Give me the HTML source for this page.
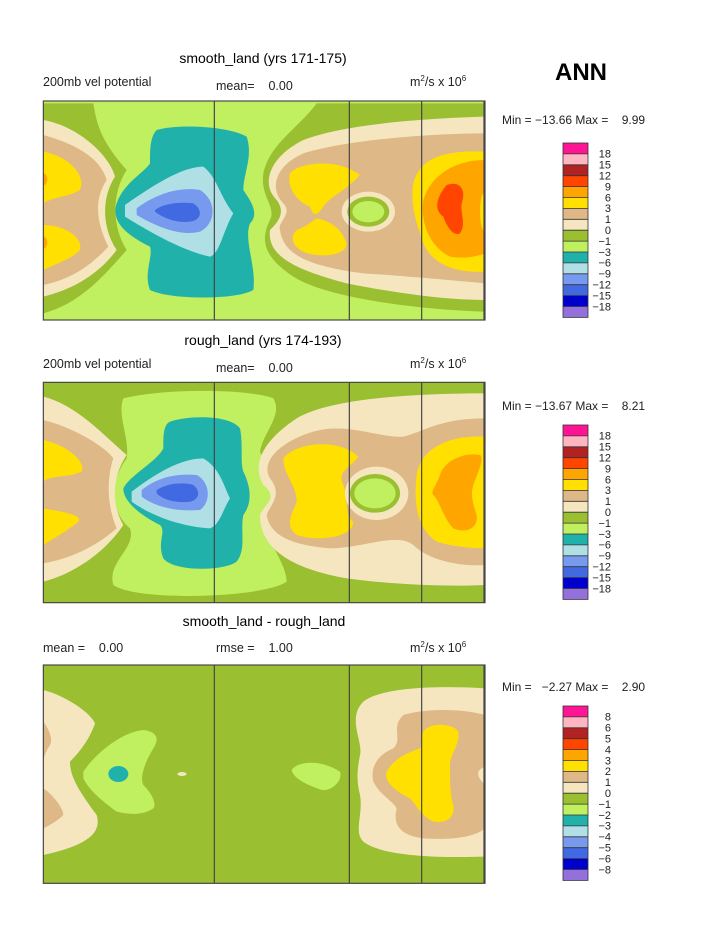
<!DOCTYPE html>
<html><head><meta charset="utf-8"><style>body{margin:0;background:#fff}svg{display:block}text{font-family:"Liberation Sans",sans-serif;white-space:pre}</style></head><body>
<svg width="723" height="935" viewBox="0 0 723 935" xmlns="http://www.w3.org/2000/svg" xml:space="preserve">
<defs>
<clipPath id="c1"><rect x="40" y="33" width="1325" height="657"/></clipPath>
<clipPath id="c2"><rect x="40" y="22" width="1325" height="661"/></clipPath>
<clipPath id="c3"><rect x="40" y="30" width="1325" height="655"/></clipPath>
<g id="cb">
<rect x="563" y="0" width="25" height="10.9" fill="#ff1493"/>
<rect x="563" y="10.9" width="25" height="10.9" fill="#ffb6c1"/>
<rect x="563" y="21.8" width="25" height="10.9" fill="#b22222"/>
<rect x="563" y="32.7" width="25" height="10.9" fill="#ff4500"/>
<rect x="563" y="43.6" width="25" height="10.9" fill="#ffa500"/>
<rect x="563" y="54.5" width="25" height="10.9" fill="#ffe000"/>
<rect x="563" y="65.4" width="25" height="10.9" fill="#deb887"/>
<rect x="563" y="76.3" width="25" height="10.9" fill="#f5e6c0"/>
<rect x="563" y="87.2" width="25" height="10.9" fill="#9abf30"/>
<rect x="563" y="98.1" width="25" height="10.9" fill="#c0ef60"/>
<rect x="563" y="109" width="25" height="10.9" fill="#20b2aa"/>
<rect x="563" y="119.9" width="25" height="10.9" fill="#b0e0e6"/>
<rect x="563" y="130.8" width="25" height="10.9" fill="#7799ee"/>
<rect x="563" y="141.7" width="25" height="10.9" fill="#4169e1"/>
<rect x="563" y="152.6" width="25" height="10.9" fill="#0000cd"/>
<rect x="563" y="163.5" width="25" height="10.9" fill="#9370db"/>
<g stroke="#333" stroke-width="0.8" fill="none">
<rect x="563" y="0" width="25" height="174.4"/>
<path d="M563 10.9H588M563 21.8H588M563 32.7H588M563 43.6H588M563 54.5H588M563 65.4H588M563 76.3H588M563 87.2H588M563 98.1H588M563 109H588M563 119.9H588M563 130.8H588M563 141.7H588M563 152.6H588M563 163.5H588"/>
</g>
</g>
</defs>

<text x="263" y="63" font-size="14" text-anchor="middle">smooth_land (yrs 171-175)</text>
<text x="43" y="86" font-size="12.5" fill="#222">200mb vel potential</text>
<text x="216" y="90" font-size="12.5" fill="#222">mean=    0.00</text>
<text x="410" y="86" font-size="12.5" fill="#222">m<tspan font-size="8" dy="-5">2</tspan><tspan dy="5">/s x 10</tspan><tspan font-size="8" dy="-5">6</tspan></text>
<text x="581" y="80" font-size="24" font-weight="bold" text-anchor="middle">ANN</text>
<text x="502" y="124" font-size="12" fill="#222">Min = −13.66 Max =    9.99</text>
<g transform="translate(0,143)"><use href="#cb"/>
<g font-size="11" text-anchor="end" fill="#222">
<text x="611" y="14.7">18</text><text x="611" y="25.6">15</text><text x="611" y="36.5">12</text><text x="611" y="47.4">9</text><text x="611" y="58.3">6</text><text x="611" y="69.2">3</text><text x="611" y="80.1">1</text><text x="611" y="91">0</text><text x="611" y="101.9">−1</text><text x="611" y="112.8">−3</text><text x="611" y="123.7">−6</text><text x="611" y="134.6">−9</text><text x="611" y="145.5">−12</text><text x="611" y="156.4">−15</text><text x="611" y="167.3">−18</text></g></g>

<!-- Panel 1 -->
<g transform="translate(30,90) scale(0.33333)">
<g clip-path="url(#c1)">
<rect x="40" y="33" width="1325" height="657" fill="#c0ef60"/>
<path fill="#9abf30" d="M40,40 L190,40 C200,100 210,150 290,240 C250,300 240,400 290,480 C220,560 150,640 40,670 Z"/>
<path fill="#f5e6c0" d="M40,90 C150,110 240,200 255,260 C210,330 220,420 260,480 C200,560 120,600 40,620 Z"/>
<path fill="#deb887" d="M40,135 C130,160 210,200 230,270 C190,330 200,400 235,470 C170,540 110,570 40,585 Z"/>
<path fill="#ffe000" d="M40,185 C120,200 170,260 150,300 C120,320 70,320 40,340 Z"/>
<path fill="#ffe000" d="M40,405 C100,405 160,440 150,480 C120,510 80,520 40,540 Z"/>
<ellipse cx="40" cy="268" rx="12" ry="18" fill="#ffa500"/>
<ellipse cx="40" cy="458" rx="12" ry="18" fill="#ffa500"/>
<path fill="#20b2aa" d="M380,120 C450,100 600,110 650,140 C670,200 640,250 640,300 C660,330 690,370 660,400 C640,450 680,530 670,600 C620,630 420,630 360,600 C340,550 370,500 360,470 C300,440 240,400 260,340 C280,280 340,250 360,220 C360,180 360,140 380,120 Z"/>
<path fill="#b0e0e6" d="M285,345 C350,300 450,230 520,230 C560,260 570,320 610,370 C580,420 570,490 540,500 C450,480 350,420 285,380 Z"/>
<path fill="#7799ee" d="M320,355 C380,310 450,290 510,300 C560,330 560,400 510,425 C450,440 380,410 320,375 Z"/>
<path fill="#4169e1" d="M375,360 C400,340 450,335 490,340 C520,360 515,390 480,395 C440,400 400,385 375,365 Z"/>
<path fill="#9abf30" d="M1365,40 L860,40 C800,120 720,160 700,250 C690,320 740,350 720,390 C690,450 700,500 790,560 C900,630 1200,660 1365,665 Z"/>
<path fill="#f5e6c0" d="M1365,80 C1200,85 950,100 820,150 C720,200 690,280 740,330 C770,370 740,400 720,420 C710,500 800,540 950,580 C1100,610 1250,630 1365,630 Z"/>
<path fill="#deb887" d="M1365,130 C1200,130 950,150 820,190 C730,230 720,300 760,340 C790,370 740,400 750,420 C760,500 850,530 1000,550 C1150,560 1250,570 1365,580 Z"/>
<path fill="#ffe000" d="M780,250 C800,220 920,200 990,255 C950,300 900,320 880,350 C860,380 850,380 840,350 C790,330 770,280 780,250 Z"/>
<path fill="#ffe000" d="M860,385 C880,390 930,400 950,460 C950,490 900,500 860,495 C800,490 770,450 800,420 C830,410 850,390 860,385 Z"/>
<ellipse cx="1015" cy="365" rx="80" ry="60" fill="#f5e6c0"/>
<ellipse cx="1015" cy="365" rx="63" ry="45" fill="#9abf30"/>
<ellipse cx="1015" cy="365" rx="48" ry="32" fill="#c0ef60"/>
<path fill="#ffe000" d="M1365,185 C1250,180 1170,200 1150,280 C1140,340 1160,400 1170,430 C1190,520 1270,550 1365,545 Z"/>
<path fill="#ffa500" d="M1365,210 C1270,210 1200,260 1180,330 C1170,400 1200,470 1260,500 C1320,510 1365,490 1365,490 Z"/>
<ellipse cx="1365" cy="365" rx="15" ry="60" fill="#ffe000"/>
<path fill="#ff4500" d="M1250,285 C1290,270 1310,300 1295,340 C1290,370 1310,400 1290,430 C1270,440 1250,410 1240,380 C1210,360 1220,320 1250,285 Z"/>
</g>
<g stroke="#444" stroke-width="3.5" fill="none"><rect x="40" y="33" width="1325" height="657"/><path d="M553,33V690M958,33V690M1175,33V690M1362,33V690"/></g>
</g>

<!-- Panel 2 titles -->
<text x="263" y="345" font-size="14" text-anchor="middle">rough_land (yrs 174-193)</text>
<text x="43" y="368" font-size="12.5" fill="#222">200mb vel potential</text>
<text x="216" y="372" font-size="12.5" fill="#222">mean=    0.00</text>
<text x="410" y="368" font-size="12.5" fill="#222">m<tspan font-size="8" dy="-5">2</tspan><tspan dy="5">/s x 10</tspan><tspan font-size="8" dy="-5">6</tspan></text>
<text x="502" y="410" font-size="12" fill="#222">Min = −13.67 Max =    8.21</text>
<g transform="translate(0,425)"><use href="#cb"/>
<g font-size="11" text-anchor="end" fill="#222">
<text x="611" y="14.7">18</text><text x="611" y="25.6">15</text><text x="611" y="36.5">12</text><text x="611" y="47.4">9</text><text x="611" y="58.3">6</text><text x="611" y="69.2">3</text><text x="611" y="80.1">1</text><text x="611" y="91">0</text><text x="611" y="101.9">−1</text><text x="611" y="112.8">−3</text><text x="611" y="123.7">−6</text><text x="611" y="134.6">−9</text><text x="611" y="145.5">−12</text><text x="611" y="156.4">−15</text><text x="611" y="167.3">−18</text></g></g>

<g transform="translate(30,375) scale(0.33333)">
<g clip-path="url(#c2)">
<rect x="40" y="22" width="1325" height="661" fill="#9abf30"/>
<path fill="#c0ef60" d="M280,70 C400,40 650,40 730,70 C760,120 700,170 690,230 C720,300 760,380 700,430 C690,470 770,560 770,620 C700,670 320,680 250,630 C230,560 320,520 300,460 C250,420 230,330 290,250 C300,190 260,120 280,70 Z"/>
<path fill="#20b2aa" d="M420,140 C480,120 600,120 630,160 C640,210 630,260 640,290 C660,330 670,380 640,420 C630,470 650,520 620,560 C580,590 430,590 400,550 C380,500 410,470 390,450 C330,420 280,380 280,340 C300,300 380,260 400,220 C400,180 400,150 420,140 Z"/>
<path fill="#b0e0e6" d="M305,350 C370,300 450,250 520,250 C570,280 580,330 600,370 C580,400 570,450 540,460 C450,455 360,420 305,380 Z"/>
<path fill="#7799ee" d="M335,345 C380,310 430,295 500,300 C540,320 545,380 510,405 C450,410 380,400 335,365 Z"/>
<path fill="#4169e1" d="M380,345 C410,325 460,320 490,330 C515,350 505,375 480,380 C440,385 400,375 380,355 Z"/>
<path fill="#f5e6c0" d="M40,65 C140,90 220,180 290,240 C250,300 240,380 280,450 C220,540 120,600 40,620 Z"/>
<path fill="#deb887" d="M40,135 C140,160 230,220 250,250 C230,310 230,390 260,460 C190,520 120,550 40,565 Z"/>
<path fill="#ffe000" d="M40,195 C110,210 170,260 155,290 C110,310 60,300 40,320 Z"/>
<path fill="#ffe000" d="M40,400 C100,410 160,420 145,440 C110,470 70,490 40,510 Z"/>
<path fill="#f5e6c0" d="M1365,55 C1150,55 900,70 800,130 C710,190 660,260 700,330 C750,370 700,390 690,420 C690,520 780,580 950,610 C1100,630 1250,635 1365,630 Z"/>
<path fill="#deb887" d="M1365,130 C1230,130 1180,170 1120,185 C1050,190 950,140 850,170 C750,200 690,260 720,310 C760,360 720,390 710,420 C720,480 780,510 900,520 C1000,520 1100,470 1150,510 C1200,560 1300,575 1365,570 Z"/>
<path fill="#ffe000" d="M760,250 C800,200 930,190 985,245 C960,280 920,290 940,330 C960,380 940,420 970,440 C970,490 860,500 800,480 C760,450 790,410 800,380 C800,330 760,300 760,250 Z"/>
<ellipse cx="1040" cy="355" rx="95" ry="80" fill="#f5e6c0"/>
<ellipse cx="1035" cy="355" rx="75" ry="58" fill="#9abf30"/>
<ellipse cx="1035" cy="355" rx="62" ry="45" fill="#c0ef60"/>
<path fill="#ffe000" d="M1365,185 C1240,180 1170,230 1160,300 C1150,380 1160,460 1220,500 C1280,520 1365,520 1365,520 Z"/>
<path fill="#ffa500" d="M1350,240 C1300,230 1240,260 1230,300 C1220,330 1200,350 1210,360 C1230,380 1240,430 1270,460 C1320,480 1345,450 1340,420 C1330,390 1320,360 1330,330 C1340,300 1365,250 1350,240 Z"/>
</g>
<g stroke="#444" stroke-width="3.5" fill="none"><rect x="40" y="22" width="1325" height="661"/><path d="M553,22V683M958,22V683M1175,22V683M1362,22V683"/></g>
</g>

<!-- Panel 3 titles -->
<text x="264" y="626" font-size="14" text-anchor="middle">smooth_land - rough_land</text>
<text x="43" y="652" font-size="12.5" fill="#222">mean =    0.00</text>
<text x="216" y="652" font-size="12.5" fill="#222">rmse =    1.00</text>
<text x="410" y="652" font-size="12.5" fill="#222">m<tspan font-size="8" dy="-5">2</tspan><tspan dy="5">/s x 10</tspan><tspan font-size="8" dy="-5">6</tspan></text>
<text x="502" y="691" font-size="12" fill="#222">Min =   −2.27 Max =    2.90</text>
<g transform="translate(0,706)"><use href="#cb"/>
<g font-size="11" text-anchor="end" fill="#222">
<text x="611" y="14.7">8</text><text x="611" y="25.6">6</text><text x="611" y="36.5">5</text><text x="611" y="47.4">4</text><text x="611" y="58.3">3</text><text x="611" y="69.2">2</text><text x="611" y="80.1">1</text><text x="611" y="91">0</text><text x="611" y="101.9">−1</text><text x="611" y="112.8">−2</text><text x="611" y="123.7">−3</text><text x="611" y="134.6">−4</text><text x="611" y="145.5">−5</text><text x="611" y="156.4">−6</text><text x="611" y="167.3">−8</text></g></g>

<g transform="translate(30,655) scale(0.33333)">
<g clip-path="url(#c3)">
<rect x="40" y="30" width="1325" height="655" fill="#9abf30"/>
<path fill="#f5e6c0" d="M40,105 C100,120 180,170 195,205 C180,250 150,290 120,320 C120,360 140,400 200,480 C215,530 180,570 40,600 Z"/>
<path fill="#deb887" d="M40,200 C55,220 70,250 60,270 C40,300 40,320 40,330 Z"/>
<path fill="#deb887" d="M40,400 C70,420 100,460 100,480 C80,500 60,510 40,520 Z"/>
<path fill="#c0ef60" d="M160,350 C200,290 280,230 340,225 C380,230 390,250 370,280 C340,330 330,370 340,390 C370,420 380,450 370,460 C340,480 300,480 260,470 C220,440 180,410 160,370 Z"/>
<ellipse cx="265" cy="357" rx="30" ry="24" fill="#20b2aa"/>
<ellipse cx="456" cy="357" rx="14" ry="6" fill="#f5e6c0"/>
<path fill="#c0ef60" d="M785,345 C800,320 870,310 930,350 C940,380 900,410 875,405 C830,390 790,370 785,345 Z"/>
<path fill="#f5e6c0" d="M1365,100 C1200,90 1050,100 1000,140 C950,190 1000,260 990,300 C980,350 980,380 990,420 C1000,480 970,530 1000,560 C1050,600 1200,610 1365,605 Z"/>
<path fill="#deb887" d="M1365,180 C1300,160 1180,160 1120,180 C1080,220 1120,250 1090,280 C1040,300 1020,340 1030,380 C1050,420 1080,430 1100,460 C1090,500 1100,540 1180,550 C1250,555 1330,550 1365,520 Z"/>
<path fill="#ffe000" d="M1180,230 C1200,200 1270,205 1285,230 C1290,270 1260,300 1260,330 C1260,370 1260,420 1270,450 C1275,490 1250,505 1210,500 C1170,480 1160,450 1140,430 C1100,410 1060,380 1070,350 C1090,310 1140,290 1170,280 C1180,260 1170,250 1180,230 Z"/>
<path fill="#f5e6c0" d="M1365,335 C1340,345 1335,360 1365,390 Z"/>
</g>
<g stroke="#444" stroke-width="3.5" fill="none"><rect x="40" y="30" width="1325" height="655"/><path d="M553,30V685M958,30V685M1175,30V685M1362,30V685"/></g>
</g>
</svg>
</body></html>
